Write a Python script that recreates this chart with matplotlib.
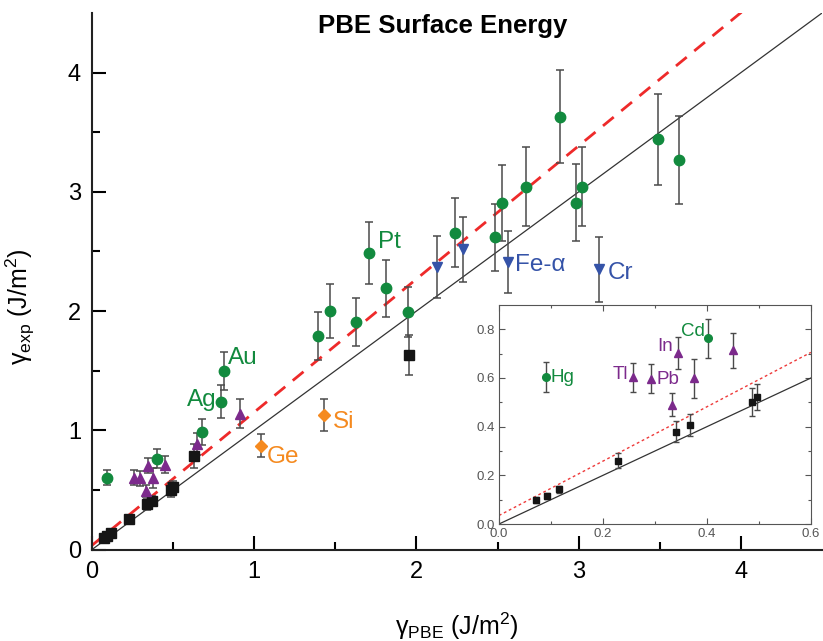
import matplotlib
matplotlib.use("Agg")
import matplotlib.pyplot as plt
import numpy as np

plt.rcParams['font.family'] = ['Liberation Sans', 'DejaVu Sans']
plt.rcParams['mathtext.fontset'] = 'custom'
plt.rcParams['mathtext.rm'] = 'Liberation Sans'
plt.rcParams['mathtext.it'] = 'Liberation Sans:italic'

# PBE vs experimental surface energies (J/m^2)
sq_pbe = [0.072, 0.092, 0.116, 0.228, 0.341, 0.368, 0.487, 0.497, 0.63, 1.953]
sq_exp = [0.097, 0.115, 0.142, 0.260, 0.380, 0.408, 0.502, 0.522, 0.784, 1.632]
sq_err = [0.012, 0.012, 0.015, 0.030, 0.045, 0.045, 0.058, 0.055, 0.10, 0.17]

tri_pbe = [0.258, 0.293, 0.333, 0.344, 0.376, 0.451, 0.649, 0.914]
tri_exp = [0.603, 0.597, 0.491, 0.704, 0.599, 0.713, 0.885, 1.14]
tri_err = [0.060, 0.060, 0.048, 0.065, 0.081, 0.070, 0.09, 0.12]

circ_pbe = [0.091, 0.403, 0.676, 0.793, 0.813, 1.39, 1.466, 1.627, 1.707, 1.811,
            1.947, 2.237, 2.487, 2.526, 2.674, 2.886, 2.986, 3.02, 3.49, 3.62]
circ_exp = [0.603, 0.763, 0.986, 1.24, 1.50, 1.79, 2.0, 1.906, 2.49, 2.19,
            1.99, 2.658, 2.62, 2.904, 3.044, 3.63, 2.91, 3.044, 3.44, 3.27]
circ_err = [0.062, 0.079, 0.107, 0.14, 0.16, 0.2, 0.23, 0.2, 0.26, 0.24,
            0.21, 0.29, 0.28, 0.32, 0.33, 0.39, 0.32, 0.33, 0.38, 0.37]

dia_pbe = [1.04, 1.43]
dia_exp = [0.871, 1.128]
dia_err = [0.098, 0.133]

inv_pbe = [2.127, 2.284, 2.565, 3.126]
inv_exp = [2.367, 2.518, 2.41, 2.35]
inv_err = [0.26, 0.27, 0.26, 0.27]

# linear fit (red) and ideal agreement (black)
fit_intercept = 0.035
fit_slope = 1.117

green = '#128a3e'
purple = '#7c2a8c'
blue = '#3553a8'
orange = '#f58a1f'
ebar = '#4a4a4a'

fig = plt.figure(figsize=(8.23, 6.41), dpi=100)
ax = fig.add_axes([0.1118, 0.1427, 0.887, 0.837])


def draw_points(a, ms, cs, lw):
    kw = dict(linestyle='none', ecolor=ebar, elinewidth=lw, capsize=cs, capthick=lw, zorder=3)
    a.errorbar(sq_pbe, sq_exp, yerr=sq_err, marker='s', color='#151515', ms=ms * 0.9, **kw)
    a.errorbar(tri_pbe, tri_exp, yerr=tri_err, marker='^', color=purple, ms=ms, **kw)
    a.errorbar(circ_pbe, circ_exp, yerr=circ_err, marker='o', color=green, ms=ms, **kw)
    a.errorbar(dia_pbe, dia_exp, yerr=dia_err, marker='D', color=orange, ms=ms * 0.75, **kw)
    a.errorbar(inv_pbe, inv_exp, yerr=inv_err, marker='v', color=blue, ms=ms, **kw)


xs = np.array([0, 4.5])
ax.plot(xs, xs, color='#333333', lw=0.9, zorder=2)
ax.plot(xs, fit_intercept + fit_slope * xs, color='#ee2a2a', lw=2, dashes=(5, 3.5), zorder=2)
draw_points(ax, 7.5, 3, 1.1)

ax.set_xlim(0, 4.5)
ax.set_ylim(0, 4.5)
ax.set_xticks([0, 1, 2, 3, 4])
ax.set_yticks([0, 1, 2, 3, 4])
ax.set_xticks(np.arange(0.5, 4.5, 1.0), minor=True)
ax.set_yticks(np.arange(0.5, 4.5, 1.0), minor=True)
ax.tick_params(which='both', direction='in', width=1.5, labelsize=17, pad=8)
ax.tick_params(which='major', length=10)
ax.tick_params(which='minor', length=6)
for s in ['top', 'right']:
    ax.spines[s].set_visible(False)
for s in ['left', 'bottom']:
    ax.spines[s].set_linewidth(1.5)
    ax.spines[s].set_color('#222222')

ax.set_xlabel('γ$_{\\rm PBE}$ (J/m$^2$)', fontsize=18, labelpad=20)
ax.set_ylabel('γ$_{\\rm exp}$ (J/m$^2$)', fontsize=18, labelpad=16)
ax.yaxis.set_label_coords(-0.075, 0.452)
fig.text(0.538, 0.96, 'PBE Surface Energy', fontsize=18.5, fontweight='bold',
         ha='center', va='center')

lbl = dict(fontsize=17.5, va='center')
ax.text(0.838, 1.61, 'Au', color=green, **lbl)
ax.text(0.77, 1.25, 'Ag', color=green, ha='right', **lbl)
ax.text(1.765, 2.58, 'Pt', color=green, **lbl)
ax.text(1.08, 0.78, 'Ge', color=orange, **lbl)
ax.text(1.485, 1.07, 'Si', color=orange, **lbl)
ax.text(2.606, 2.39, 'Fe-α', color=blue, **lbl)
ax.text(3.177, 2.32, 'Cr', color=blue, **lbl)

# inset: low surface energy region
ins = fig.add_axes([0.6063, 0.1825, 0.379, 0.3417])
xi = np.array([0, 0.6])
ins.plot(xi, xi, color='#333333', lw=0.9, zorder=2)
ins.plot(xi, fit_intercept + fit_slope * xi, color='#ee3a3a', lw=1, dashes=(2, 2), zorder=2)
draw_points(ins, 5.5, 2, 1)
ins.set_xlim(0, 0.6)
ins.set_ylim(0, 0.9)
ins.set_xticks([0, 0.2, 0.4, 0.6])
ins.set_yticks([0, 0.2, 0.4, 0.6, 0.8])
ins.set_xticks([0.1, 0.3, 0.5], minor=True)
ins.set_yticks([0.1, 0.3, 0.5, 0.7], minor=True)
ins.xaxis.set_major_formatter(plt.FormatStrFormatter('%.1f'))
ins.yaxis.set_major_formatter(plt.FormatStrFormatter('%.1f'))
ins.tick_params(which='both', direction='in', top=True, right=True, labelsize=9.5,
                width=0.8, colors='#555555', pad=3)
ins.tick_params(which='major', length=4)
ins.tick_params(which='minor', length=2.5)
for s in ins.spines.values():
    s.set_linewidth(0.8)
    s.set_color('#555555')

il = dict(fontsize=13.5, va='center')
ins.text(0.099, 0.603, 'Hg', color=green, **il)
ins.text(0.397, 0.793, 'Cd', color=green, ha='right', **il)
ins.text(0.335, 0.731, 'In', color=purple, ha='right', **il)
ins.text(0.249, 0.614, 'Tl', color=purple, ha='right', **il)
ins.text(0.303, 0.594, 'Pb', color=purple, **il)

fig.savefig('out.png', dpi=100)
